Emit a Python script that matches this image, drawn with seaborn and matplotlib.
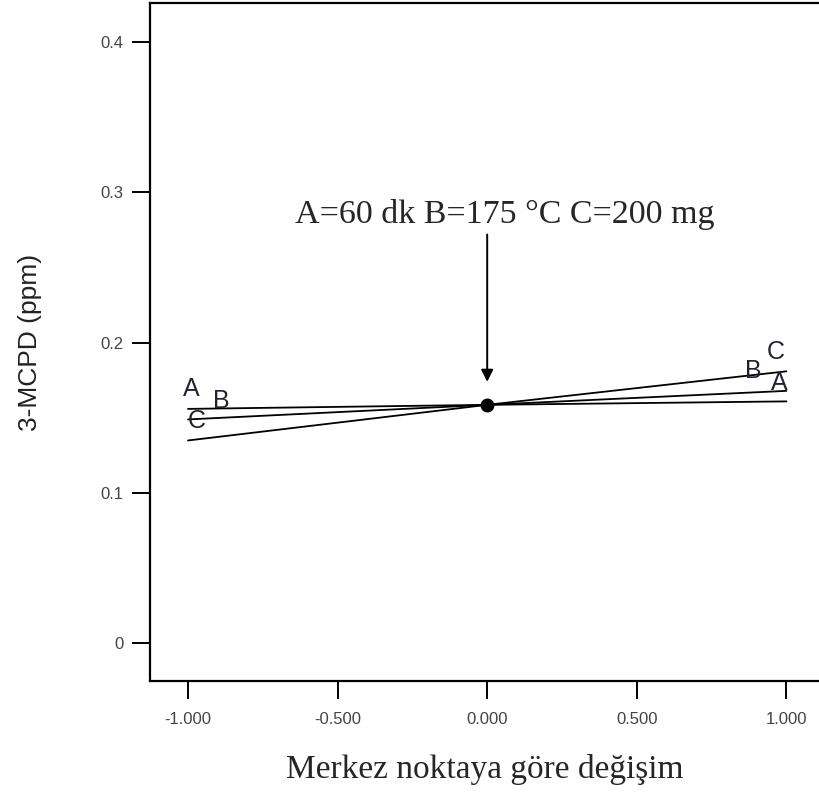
import pandas as pd
import matplotlib
matplotlib.use("Agg")
import matplotlib.pyplot as plt
import seaborn as sns

# perturbation plot data
deviation = [-1.0, 0.0, 1.0]
line_a = [0.156, 0.1587, 0.161]
line_b = [0.149, 0.1587, 0.168]
line_c = [0.135, 0.1587, 0.181]
center_point = (0.0, 0.1587)

x_ticks = [-1.0, -0.5, 0.0, 0.5, 1.0]
x_tick_labels = ["-1.000", "-0.500", "0.000", "0.500", "1.000"]
y_ticks = [0.0, 0.1, 0.2, 0.3, 0.4]
y_tick_labels = ["0", "0.1", "0.2", "0.3", "0.4"]

# factor letters at the line ends (x, y, letter)
end_labels = [
    (-0.99, 0.169, "A"), (-0.89, 0.161, "B"), (-0.97, 0.148, "C"),
    (0.965, 0.194, "C"), (0.89, 0.181, "B"), (0.975, 0.173, "A"),
]
note_text = "A=60 dk B=175 °C C=200 mg"

df = pd.DataFrame({
    "dev": deviation * 3,
    "ppm": line_a + line_b + line_c,
    "factor": ["A"] * 3 + ["B"] * 3 + ["C"] * 3,
})

sns.set_style("ticks")
fig = plt.figure(figsize=(8.19, 7.93), dpi=100)
ax = fig.add_axes([150 / 819, 112 / 793, 1 - 150 / 819, 678 / 793])

sns.lineplot(data=df, x="dev", y="ppm", units="factor", estimator=None,
             color="black", linewidth=1.3, ax=ax, legend=False)
ax.plot(*center_point, "o", color="black", markersize=9)

for x, y, s in end_labels:
    ax.text(x, y, s, ha="center", va="center", fontsize=18,
            family="Liberation Sans", color="#222233")

# note text and the vertical arrow pointing at the centre point
ax.text(0.06, 0.285, note_text, ha="center", va="center", fontsize=24.5,
        family="Liberation Serif")
ax.annotate("", xy=(0.0, 0.174), xytext=(0.0, 0.272),
            arrowprops=dict(arrowstyle="-|>", color="black", lw=1.4,
                            mutation_scale=18, shrinkA=0, shrinkB=0))

ax.set_xlim(-1.127, 1.109)
ax.set_ylim(-0.025, 0.426)
ax.set_xticks(x_ticks)
ax.set_xticklabels(x_tick_labels)
ax.set_yticks(y_ticks)
ax.set_yticklabels(y_tick_labels)
ax.tick_params(direction="out", length=13, width=1.4, color="black",
               labelsize=12, labelcolor="#444444", pad=6)
ax.tick_params(axis="x", pad=9)
for lab in ax.get_xticklabels() + ax.get_yticklabels():
    lab.set_family("Liberation Sans")

for side in ["left", "bottom", "top"]:
    ax.spines[side].set_color("black")
    ax.spines[side].set_linewidth(1.6)
ax.spines["right"].set_visible(False)

ax.set_xlabel("Merkez noktaya göre değişim", fontsize=24,
              family="Liberation Serif", labelpad=20)
ax.set_ylabel("3-MCPD (ppm)", fontsize=19, family="Liberation Sans",
              color="#222222", labelpad=42)

fig.savefig("out.png", dpi=100)
